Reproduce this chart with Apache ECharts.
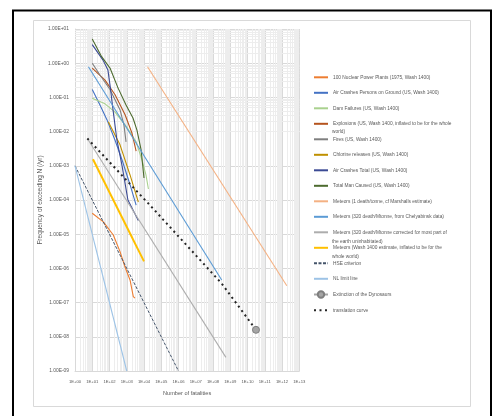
<!DOCTYPE html>
<html>
<head>
<meta charset="utf-8">
<script src="https://cdn.jsdelivr.net/npm/echarts@6/dist/echarts.min.js"></script>
<style>
html, body { margin: 0; padding: 0; background: #fff; }
#chart { width: 493px; height: 416px; }
</style>
</head>
<body>
<div id="chart"></div>
<script>
var dom = document.getElementById('chart');
var myChart = echarts.init(dom, null, { renderer: 'canvas' });

// decades on the axes
const xDecades = [0, 1, 2, 3, 4, 5, 6, 7, 8, 9, 10, 11, 12, 13];
const yDecades = [-9, -8, -7, -6, -5, -4, -3, -2, -1, 0, 1];

// [number of fatalities, frequency per year]
const nuclear100 = [[10, 4.1e-5], [44, 2.3e-5], [166, 9.5e-6], [407, 3.1e-6], [794, 1.1e-6], [1550, 4.6e-7], [2400, 1.5e-7], [3000, 1.35e-7]];
const airGround = [[10, 0.17], [28, 0.06], [72, 0.022], [210, 0.0056], [530, 0.0015], [1550, 0.00028], [3500, 7.1e-5]];
const damFailures = [[10, 0.095], [55, 0.065], [210, 0.037], [1000, 0.0135], [3500, 0.005], [7600, 0.0015], [13000, 0.00054], [18000, 0.00021]];
const explosions = [[10, 0.72], [55, 0.32], [210, 0.12], [800, 0.031], [2000, 0.0091], [3500, 0.0027]];
const fires = [[10, 1.0], [28, 0.45], [107, 0.17], [410, 0.043], [690, 0.0155], [910, 0.005]];
const chlorine = [[85, 0.0195], [407, 0.0041], [1550, 0.00054], [4700, 8.7e-5]];
const airTotal = [[10, 3.5], [42, 1.23], [81, 0.63], [107, 0.23], [160, 0.043], [270, 0.0056], [525, 0.00105], [1170, 1e-4], [2300, 5.1e-5], [4700, 2.5e-5]];
const totalManCaused = [[10, 5.1], [35, 1.55], [107, 0.72], [310, 0.19], [910, 0.06], [2300, 0.025], [3900, 0.011], [6800, 0.0029], [10000, 0.00044]];
const meteorsMarshall = [[1.6e4, 0.79], [1.9e12, 3.1e-7]];
const meteorsChelyabinsk = [[6, 0.79], [3.2e8, 4.6e-7]];
const meteorsCorrected = [[6, 0.0056], [5.6e8, 2.5e-9]];
const meteorsWash = [[11, 0.00155], [1e4, 1.6e-6]];
const hseCriterion = [[1, 1e-3], [1e6, 1e-9]];
const nlLimit = [[1, 1e-3], [1000, 1e-9]];
const dinosaurs = [[3.1e10, 1.6e-8]];
const translation = [[5.2, 0.0063], [2.8e4, 6.2e-5], [3.2e8, 3.6e-7], [3.1e10, 1.6e-8]];

const names = [
    '100 Nuclear Power Plants (1975, Wash 1400)',
    'Air Crashes Persons on Ground (US, Wash 1400)',
    'Dam Failures (US, Wash 1400)',
    'Explosions (US, Wash 1400, inflated to be for the whole\nworld)',
    'Fires (US, Wash 1400)',
    'Chlorine releases (US, Wash 1400)',
    'Air Crashes Total (US, Wash 1400)',
    'Total Man Caused (US, Wash 1400)',
    'Meteors (1 death/tonne, cf Marshalls estimate)',
    'Meteors (320 death/Mtonne, from Chelyabinsk data)',
    'Meteors (320 death/Mtonne corrected for most part of\nthe earth uninhabitated)',
    'Meteors (Wash 1400 estimate, inflated to be for the\nwhole world)',
    'HSE criterion',
    'NL limit line',
    'Extinction of the Dynosaurs',
    'translation curve'
];
const seriesData = [nuclear100, airGround, damFailures, explosions, fires, chlorine, airTotal, totalManCaused,
    meteorsMarshall, meteorsChelyabinsk, meteorsCorrected, meteorsWash, hseCriterion, nlLimit, dinosaurs, translation];
const colors = ['#ED7D31', '#4472C4', '#A9D18E', '#B5541E', '#7F7F7F', '#BF9000', '#3B4A94', '#4D6B2F',
    '#F4B183', '#5B9BD5', '#ADADAD', '#FFC000', '#44546A', '#9DC3E6', '#A5A5A5', '#262626'];

const fontFam = '"Liberation Sans", Arial, sans-serif';

function expLabel(v, digits) {
    var e = Math.round(Math.log10(v));
    var s = e < 0 ? '-' : '+';
    var a = Math.abs(e);
    return (digits ? '1.00E' : '1E') + s + (a < 10 ? '0' + a : a);
}

// minor log gridlines (2..9 x 10^n)
const minorLines = [];
xDecades.slice(0, -1).forEach(function (e) {
    for (var k = 2; k <= 9; k++) minorLines.push({ xAxis: k * Math.pow(10, e) });
});
yDecades.slice(0, -1).forEach(function (e) {
    for (var k = 2; k <= 9; k++) minorLines.push({ yAxis: k * Math.pow(10, e) });
});

const series = seriesData.map(function (d, i) {
    var s = {
        name: names[i],
        type: 'line',
        data: d,
        symbol: 'none',
        smooth: false,
        z: 3,
        lineStyle: { color: colors[i], width: 1.1 },
        itemStyle: { color: colors[i] }
    };
    if (i === 11) s.lineStyle.width = 2;
    if (i === 12) { s.lineStyle.type = [3, 1.5]; s.lineStyle.width = 1; }
    if (i === 15) { s.lineStyle.type = [2, 3.5]; s.lineStyle.width = 2; }
    if (i === 14) {
        s.symbol = 'circle';
        s.symbolSize = 7;
        s.itemStyle = { color: '#A5A5A5', borderColor: '#7F7F7F', borderWidth: 1 };
        s.z = 4;
    }
    return s;
});
series.push({
    name: 'minor grid',
    type: 'line',
    data: [],
    z: 1,
    silent: true,
    markLine: {
        silent: true,
        z: 1,
        symbol: ['none', 'none'],
        label: { show: false },
        emphasis: { disabled: true },
        lineStyle: { color: '#EDEDED', width: 1, type: 'solid' },
        data: minorLines
    }
});

// legend entries: hide the symbol except for the dinosaur point
const legendData = names.map(function (n, i) {
    return i === 14 ? { name: n, itemStyle: { opacity: 1 } } : { name: n };
});

var option = {
    animation: false,
    backgroundColor: '#fff',
    grid: { left: 75, right: 193.75, top: 29, bottom: 45 },
    legend: {
        data: legendData,
        orient: 'vertical',
        left: 313,
        top: 73.3,
        padding: 0,
        itemWidth: 14,
        itemHeight: 8,
        itemGap: 7.5,
        itemStyle: { opacity: 0 },
        formatter: function (name) { return name.split('\n')[0]; },
        textStyle: { fontSize: 4.8, color: '#595959', fontFamily: fontFam, lineHeight: 8 }
    },
    xAxis: {
        type: 'log',
        logBase: 10,
        min: 1,
        max: 1e13,
        interval: 1,
        name: 'Number of fatalities',
        nameLocation: 'middle',
        nameGap: 19,
        nameTextStyle: { fontSize: 5.6, color: '#595959', fontFamily: fontFam },
        axisLine: { show: true, lineStyle: { color: '#D9D9D9' } },
        axisTick: { show: false },
        axisLabel: {
            fontSize: 4.2, color: '#595959', fontFamily: fontFam, margin: 9,
            formatter: function (v) { return expLabel(v, false); }
        },
        splitLine: { show: true, lineStyle: { color: '#D9D9D9', width: 1 } }
    },
    yAxis: {
        type: 'log',
        logBase: 10,
        min: 1e-9,
        max: 10,
        interval: 1,
        name: 'Frequency of exceeding N (/yr)',
        nameLocation: 'middle',
        nameGap: 26.5,
        nameTextStyle: { fontSize: 6.5, color: '#595959', fontFamily: fontFam },
        axisLine: { show: true, lineStyle: { color: '#D9D9D9' } },
        axisTick: { show: false },
        axisLabel: {
            fontSize: 4.9, color: '#595959', fontFamily: fontFam, margin: 6,
            formatter: function (v) { return expLabel(v, true); }
        },
        splitLine: { show: true, lineStyle: { color: '#D9D9D9', width: 1 } }
    },
    graphic: [
        { type: 'rect', silent: true, z: 100, shape: { x: 13, y: 10.5, width: 478, height: 430 },
          style: { fill: 'none', stroke: '#000', lineWidth: 2 } },
        { type: 'rect', silent: true, z: -10, shape: { x: 33.5, y: 20.5, width: 437, height: 386 },
          style: { fill: 'none', stroke: '#D9D9D9', lineWidth: 1 } },
        { type: 'text', silent: true, style: { text: 'world)', x: 332, y: 131.7, verticalAlign: 'middle', fontSize: 4.8, fontFamily: fontFam, fill: '#595959' } },
        { type: 'text', silent: true, style: { text: 'the earth uninhabitated)', x: 332, y: 241.7, verticalAlign: 'middle', fontSize: 4.8, fontFamily: fontFam, fill: '#595959' } },
        { type: 'text', silent: true, style: { text: 'whole world)', x: 332, y: 256.7, verticalAlign: 'middle', fontSize: 4.8, fontFamily: fontFam, fill: '#595959' } }
    ],
    series: series
};

myChart.setOption(option);
window.addEventListener('resize', myChart.resize);
</script>
</body>
</html>
